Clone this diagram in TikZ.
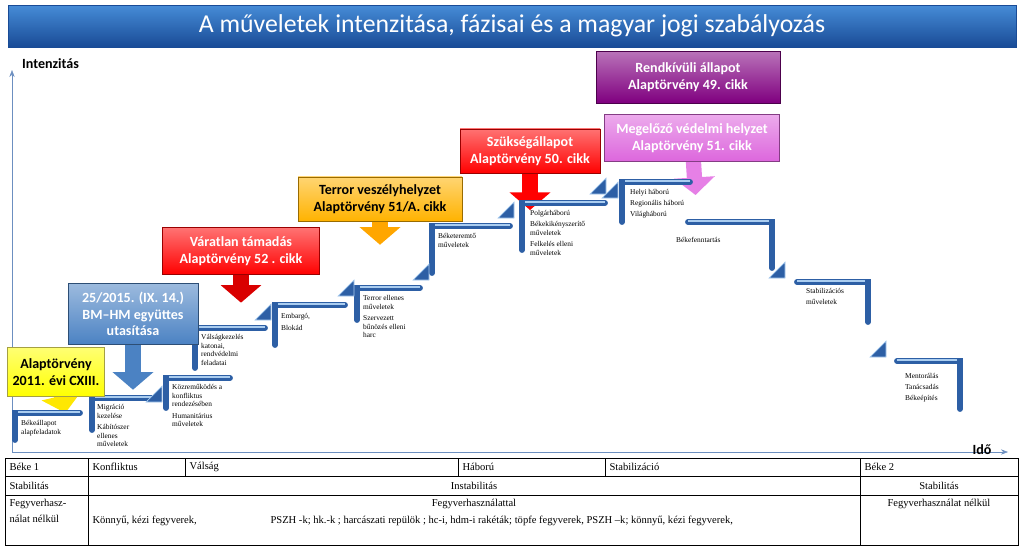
\documentclass[tikz,border=0pt]{standalone}
\usepackage{fontspec}
\setmainfont{Liberation Serif}
\newfontfamily\calib{Carlito}
\usetikzlibrary{arrows.meta, positioning, backgrounds}

\definecolor{stepblue}{RGB}{45,95,165}
\definecolor{shineblue}{RGB}{170,205,240}
\definecolor{titletop}{RGB}{70,140,215}
\definecolor{titlebot}{RGB}{25,75,150}
\definecolor{steel}{RGB}{75,130,195}

% steps of the staircase
\tikzset{
    stepbar/.style={stepblue, line width=5pt, line cap=round},
    stepshine/.style={shineblue, line width=1.2pt},
    steptri/.style={fill=stepblue, draw=shineblue, line width=0.6pt},
    smalltxt/.style={font=\fontsize{6.3}{7.5}\selectfont, align=left, inner sep=0pt},
    callbox/.style={draw=#1!60!black, top color=#1!55!white, bottom color=#1, minimum height=44pt,
        font=\calib\bfseries\fontsize{12}{14}\selectfont, align=center, inner sep=2pt},
    callarrow/.style={draw=#1, line width=13pt, -{Triangle[width=34pt, length=15pt]}},
    cell/.style={font=\fontsize{9}{10.5}\selectfont, anchor=west, inner sep=2pt}
}

% step with the vertical bar on the left (rising side)
\newcommand{\stepL}[5]{%
    \coordinate (#1) at (#2,#3);
    \draw[stepbar] (#2+#4,#3) -- (#1) -- ++(0,#5);
    \draw[stepshine] (#2+3,#3-1) -- (#2+#4,#3-1);
}
% step with the vertical bar on the right (falling side)
\newcommand{\stepR}[5]{%
    \coordinate (#1) at (#2+#4,#3);
    \draw[stepbar] (#2,#3) -- (#1) -- ++(0,#5);
    \draw[stepshine] (#2,#3-1) -- (#2+#4-3,#3-1);
}
% small corner triangle
\newcommand{\tri}[2]{\filldraw[steptri] (#1,#2) -- ++(16,0) -- ++(0,-16) -- cycle;}

\begin{document}
\begin{tikzpicture}[x=0.03cm, y=-0.03cm]
    \useasboundingbox (0,0) rectangle (1024,547);

    % title
    \node[top color=titletop, bottom color=titlebot, draw=titlebot, minimum width=1008*0.03cm,
          minimum height=42*0.03cm, text=white, font=\calib\fontsize{22}{24}\selectfont]
          (title) at (512,26) {A műveletek intenzitása, fázisai és a magyar jogi szabályozás};

    % axes
    \coordinate (o) at (12,452);
    \draw[stepblue!70!white, -{Stealth[length=6pt]}] (o) -- (12,70) coordinate (ytop);
    \draw[stepblue!70!white, -{Stealth[length=6pt]}] (o) -- (1008,452) coordinate (xend);
    \node[font=\calib\bfseries\fontsize{12}{14}\selectfont, anchor=west] (ylab) at (18,64) {Intenzitás};
    \node[font=\calib\bfseries\fontsize{12}{14}\selectfont] (xlab) at (982,450) {Idő};

    % rising steps
    \stepL{s1}{15}{413}{65}{27}
    \stepL{s2}{92}{398}{63}{32}
    \stepL{s3}{166}{378}{64}{30}
    \stepL{s4}{195}{328}{70}{40}
    \stepL{s5}{275}{305}{70}{40}
    \stepL{s6}{357}{288}{63}{32}
    \stepL{s7}{432}{226}{78}{47}
    \stepL{s8}{522}{203}{83}{47}
    \stepL{s9}{622}{182}{68}{40}
    % falling steps
    \stepR{s10}{688}{222}{84}{46}
    \stepR{s11}{797}{282}{71}{40}
    \stepR{s12}{897}{361}{63}{48}

    \tri{146}{402}
    \tri{255}{320}
    \tri{338}{296}
    \tri{413}{280}
    \tri{498}{218}
    \tri{590}{194}
    \tri{602}{198}
    \tri{769}{278}
    \tri{870}{357}

    % step texts
    \node[smalltxt, anchor=north west] (t1) at ([shift={(6,7)}]s1) {Békeállapot\\alapfeladatok};
    \node[smalltxt, anchor=north west] (t2) at ([shift={(5,6)}]s2) {Migráció\\kezelése\\[2pt]Kábítószer\\ellenes\\műveletek};
    \node[smalltxt, anchor=north west] (t3) at ([shift={(6,6)}]s3) {Közreműködés a\\konfliktus\\rendezésében\\[2pt]Humanitárius\\műveletek};
    \node[smalltxt, anchor=north west] (t4) at ([shift={(6,6)}]s4) {Válságkezelés\\katonai,\\rendvédelmi\\feladatai};
    \node[smalltxt, anchor=north west] (t5) at ([shift={(6,8)}]s5) {Embargó,\\[3pt]Blokád};
    \node[smalltxt, anchor=north west] (t6) at ([shift={(6,7)}]s6) {Terror ellenes\\műveletek\\[2pt]Szervezett\\bűnözés elleni\\harc};
    \node[smalltxt, anchor=north west] (t7) at ([shift={(6,7)}]s7) {Béketeremtő\\műveletek};
    \node[smalltxt, anchor=north west] (t8) at ([shift={(8,7)}]s8) {Polgárháború\\[2pt]Békekikényszerítő\\műveletek\\[2pt]Felkelés elleni\\műveletek};
    \node[smalltxt, anchor=north west] (t9) at ([shift={(8,7)}]s9) {Helyi háború\\[2pt]Regionális háború\\[2pt]Világháború};
    \node[smalltxt, anchor=west] (t10) at (676,240) {Békefenntartás};
    \node[smalltxt, anchor=north west] (t11) at (806,288) {Stabilizációs\\[2pt]műveletek};
    \node[smalltxt, anchor=north west] (t12) at (905,373) {Mentorálás\\[2pt]Tanácsadás\\[2pt]Békeépítés};

    % legal boxes
    \node[callbox=violet, minimum width=184*0.03cm] (b7) at (688,77) {\color{white}Rendkívüli állapot\\\color{white}Alaptörvény 49. cikk};
    \node[callbox=violet!45!magenta!60!white, minimum width=175*0.03cm, minimum height=40pt] (b6) at (692,138) {\color{white}Megelőző védelmi helyzet\\\color{white}Alaptörvény 51. cikk};
    \node[callbox=red, minimum width=140*0.03cm, minimum height=38pt] (b5) at (530,151) {\color{white}Szükségállapot\\\color{white}Alaptörvény 50. cikk};
    \node[callbox=orange!60!yellow, minimum width=164*0.03cm, minimum height=38pt] (b4) at (380,199) {Terror veszélyhelyzet\\Alaptörvény 51/A. cikk};
    \node[callbox=red, minimum width=157*0.03cm, minimum height=40pt] (b3) at (241,251) {\color{white}Váratlan támadás\\\color{white}Alaptörvény 52 . cikk};
    \node[callbox=steel, minimum width=130*0.03cm, minimum height=52pt] (b2) at (133,314) {\color{white}25/2015. (IX. 14.)\\\color{white}BM–HM együttes\\\color{white}utasítása};
    \node[callbox=yellow, minimum width=97*0.03cm, minimum height=42pt] (b1) at (56,372) {Alaptörvény\\2011. évi CXIII.};

    % arrows behind the boxes
    \begin{scope}[on background layer]
        \draw[callarrow=yellow!90!orange] (b1.center) -- ([xshift=8]b1.south |- s1);
        \draw[callarrow=steel] (b2.center) -- ([yshift=-10]b2.south |- s3);
        \draw[callarrow=red!85!black] (b3.center) -- ([yshift=2]b3.south |- s5);
        \draw[callarrow=orange!70!yellow] (b4.center) -- ([yshift=-16]b4.south |- s7);
        \draw[callarrow=red] (b5.center) -- ([yshift=-6]b5.south |- s8);
        \draw[callarrow=violet!40!magenta!50!white] (b6.center) -- ([xshift=3]b6.south |- 0,195);
    \end{scope}

    % table
    \draw (5,458) rectangle (1018,545);
    \draw (5,476) -- (1018,476) (5,495) -- (1018,495);
    \draw (88,458) -- (88,545) (860,458) -- (860,545);
    \foreach \cx in {185,458,605} \draw (\cx,458) -- (\cx,476);

    \node[cell] (c1) at (7,467) {Béke 1};
    \node[cell] (c2) at (90,467) {Konfliktus};
    \node[cell] (c3) at (187,467) {Válság};
    \node[cell] (c4) at (460,467) {Háború};
    \node[cell] (c5) at (607,467) {Stabilizáció};
    \node[cell] (c6) at (862,467) {Béke 2};
    \node[cell] (d1) at (7,486) {Stabilitás};
    \node[cell, anchor=center] (d2) at (474,486) {Instabilitás};
    \node[cell, anchor=center] (d3) at (939,486) {Stabilitás};
    \node[cell, anchor=north west, align=left] (e1) at (7,497) {Fegyverhasz-\\[3pt]nálat nélkül};
    \node[cell, anchor=center] (e2) at (474,504) {Fegyverhasználattal};
    \node[cell] (e3) at (90,521) {Könnyű, kézi fegyverek,};
    \node[cell] (e4) at (268,521) {PSZH -k; hk.-k ; harcászati repülök ; hc-i, hdm-i rakéták; töpfe fegyverek, PSZH –k; könnyű, kézi fegyverek,};
    \node[cell, anchor=center] (e5) at (939,504) {Fegyverhasználat nélkül};
\end{tikzpicture}
\end{document}
